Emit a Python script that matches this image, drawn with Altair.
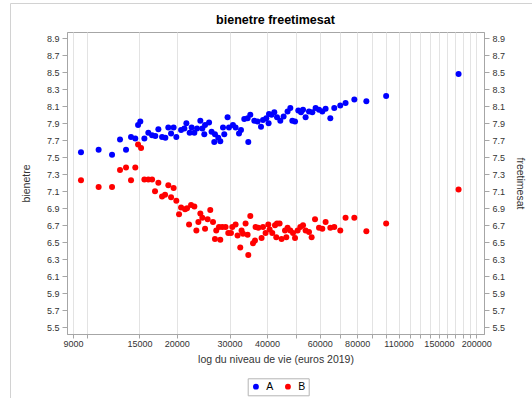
import altair as alt
import pandas as pd

# Niveau de vie (euros 2019) et score moyen par groupe -- série A
a_income = [9570, 10960, 12150, 12920, 13530, 14060, 14530, 14840, 15100, 15580,
            16060, 16530, 16950, 17350, 17850, 18310, 18730, 19130, 19510, 19920,
            20660, 21190, 21520, 22070, 22410, 22880, 23360, 23960, 24330, 24840,
            24700, 25620, 26120, 26810, 26670, 27500, 27930, 28520, 28800, 29540,
            29860, 30790, 31420, 32250, 32750, 33590, 34460, 34640, 35180, 36280,
            37210, 38200, 38790, 39780, 40620, 41440, 40500, 42310, 43200, 44310,
            45450, 46860, 47860, 48600, 49620, 50890, 51960, 52770, 53830, 55250,
            56680, 58130, 59680, 61210, 62780, 65090, 67100, 70270, 73190, 78300,
            85870, 100000, 174500]
a_score = [7.56, 7.59, 7.53, 7.71, 7.59, 7.74, 7.72, 7.88, 7.92, 7.72,
           7.79, 7.76, 7.75, 7.83, 7.74, 7.73, 7.85, 7.78, 7.85, 7.74,
           7.82, 7.84, 7.90, 7.79, 7.85, 7.79, 7.84, 7.93, 7.84, 7.88,
           7.77, 7.91, 7.80, 7.77, 7.68, 7.73, 7.69, 7.85, 7.77, 7.97,
           7.85, 7.88, 7.85, 7.78, 7.82, 7.95, 7.96, 7.68, 8.00, 7.93,
           7.92, 7.86, 7.94, 7.96, 8.01, 8.00, 7.90, 8.03, 7.97, 7.93,
           7.98, 8.04, 8.08, 7.93, 7.92, 8.05, 8.03, 8.06, 7.97, 8.04,
           8.03, 8.08, 8.06, 8.04, 8.07, 7.96, 8.08, 8.11, 8.14, 8.18,
           8.16, 8.22, 8.48]

# Série B
b_income = [9570, 10960, 12150, 12920, 13530, 14060, 14530, 14840, 15190, 15580,
            16060, 16530, 16910, 17350, 17850, 18270, 18730, 19130, 19510, 19920,
            20340, 20660, 21300, 21630, 21970, 22310, 22880, 23240, 23600, 23960,
            24330, 24840, 25340, 25860, 26410, 26810, 27080, 27650, 27930, 28360,
            29090, 29700, 30320, 30630, 31420, 31900, 32570, 32900, 33260, 33930,
            34460, 34640, 35180, 35920, 36470, 36640, 37410, 38370, 38790, 39570,
            40400, 40810, 41660, 42540, 43200, 42960, 44070, 44750, 45940, 46860,
            46400, 47860, 48860, 49620, 50620, 51680, 52770, 53830, 55250, 56380,
            57870, 59680, 61210, 62780, 65090, 67100, 70270, 73190, 78300, 85870,
            100000, 174500]
b_score = [7.23, 7.15, 7.15, 7.35, 7.38, 7.23, 7.38, 7.65, 7.61, 7.24,
           7.24, 7.24, 7.10, 7.20, 7.04, 7.06, 7.17, 7.03, 7.14, 6.99,
           6.83, 6.91, 6.89, 6.90, 6.71, 6.94, 6.92, 6.64, 6.74, 6.84,
           6.79, 6.66, 6.77, 6.88, 6.74, 6.54, 6.64, 6.68, 6.53, 6.68,
           6.68, 6.61, 6.61, 6.68, 6.71, 6.58, 6.44, 6.64, 6.60, 6.72,
           6.59, 6.35, 6.81, 6.49, 6.52, 6.68, 6.67, 6.55, 6.68, 6.61,
           6.71, 6.65, 6.61, 6.70, 6.72, 6.56, 6.72, 6.54, 6.64, 6.67,
           6.56, 6.64, 6.61, 6.55, 6.64, 6.68, 6.70, 6.64, 6.62, 6.56,
           6.77, 6.67, 6.66, 6.74, 6.67, 6.68, 6.64, 6.79, 6.79, 6.63,
           6.72, 7.12]

# Graduations
x_ticks = [9000, 10000, 15000, 20000, 30000, 40000, 50000, 60000, 70000, 80000,
           90000, 100000, 110000, 120000, 130000, 140000, 150000, 160000, 170000,
           180000, 190000, 200000]
x_labels = [9000, 15000, 20000, 30000, 40000, 60000, 80000, 110000, 150000, 200000]
y_ticks = [5.5, 5.7, 5.9, 6.1, 6.3, 6.5, 6.7, 6.9, 7.1, 7.3, 7.5, 7.7, 7.9,
           8.1, 8.3, 8.5, 8.7, 8.9]
series = ["A", "B"]
colors = ["#0000ff", "#ff0000"]
chart_title = "bienetre freetimesat"

df = pd.concat([
    pd.DataFrame({"revenu": a_income, "valeur": a_score, "groupe": "A"}),
    pd.DataFrame({"revenu": b_income, "valeur": b_score, "groupe": "B"}),
], ignore_index=True)

FONT = "Liberation Sans"
AXIS_GRAY = "#a6a6a6"
TEXT = "#333333"
PLOT_W, PLOT_H = 417, 302

x_scale = alt.Scale(type="log", domain=[8594, 212200], nice=False)
y_scale = alt.Scale(domain=[5.421, 8.974], nice=False, zero=False)

label_list = "[" + ",".join(str(v) for v in x_labels) + "]"

points = alt.Chart(df).mark_circle(size=36, opacity=1).encode(
    x=alt.X("revenu:Q", scale=x_scale,
            axis=alt.Axis(title="log du niveau de vie (euros 2019)",
                          values=x_ticks, format="d",
                          labelExpr=f"indexof({label_list}, datum.value) >= 0 ? datum.label : ''",
                          grid=True, gridColor="#e3e3e3", labelOverlap=False,
                          labelFlush=False, tickSize=4, labelPadding=1,
                          titlePadding=6)),
    y=alt.Y("valeur:Q", scale=y_scale,
            axis=alt.Axis(title="bienetre", values=y_ticks, format=".1f",
                          grid=False, tickSize=5, labelPadding=3,
                          titlePadding=15)),
    color=alt.Color("groupe:N",
                    scale=alt.Scale(domain=series, range=colors),
                    legend=alt.Legend(title=None, orient="none",
                                      legendX=180.7, legendY=346.3,
                                      direction="horizontal",
                                      strokeColor="#b4b4b4", padding=3,
                                      symbolType="circle", symbolSize=34,
                                      symbolStrokeWidth=0,
                                      labelFontSize=10.5, labelFont=FONT,
                                      labelColor="#000000",
                                      labelOffset=5, columnPadding=9)),
)

# Axe de droite : même échelle, titre freetimesat
right_axis = alt.Chart(df).mark_circle(opacity=0).encode(
    y=alt.Y("valeur:Q", scale=y_scale,
            axis=alt.Axis(orient="right", title="freetimesat", values=y_ticks,
                          format=".1f", grid=False, tickSize=5, labelPadding=3,
                          titlePadding=10)),
)

one_row = pd.DataFrame({"k": [0]})

# Cadre extérieur du graphique
frame = alt.Chart(one_row).mark_rect(
    fillOpacity=0, stroke="#d2d2d2", strokeWidth=1
).encode(
    x=alt.value(-56.5), x2=alt.value(620),
    y=alt.value(-28.5), y2=alt.value(500),
)

# Titre centré au-dessus de la zone de tracé
title = alt.Chart(one_row).mark_text(
    text=chart_title, font=FONT, fontSize=12.5, fontWeight="bold",
    color="#000000", align="center", baseline="middle",
).encode(x=alt.value(PLOT_W / 2), y=alt.value(-12.5))

chart = alt.layer(frame, title, points, right_axis).resolve_scale(
    y="independent"
).properties(
    width=PLOT_W, height=PLOT_H,
    padding={"left": 67, "top": 32, "right": 48, "bottom": 64},
    autosize=alt.AutoSizeParams(type="none"),
).configure_view(
    stroke=AXIS_GRAY, strokeWidth=1
).configure_axis(
    domainColor=AXIS_GRAY, tickColor=AXIS_GRAY,
    labelFont=FONT, labelFontSize=9, labelColor=TEXT,
    titleFont=FONT, titleFontSize=10.5, titleColor=TEXT,
    titleFontWeight="normal",
)

chart.save("out.html", embed_options={"renderer": "svg", "actions": False})
